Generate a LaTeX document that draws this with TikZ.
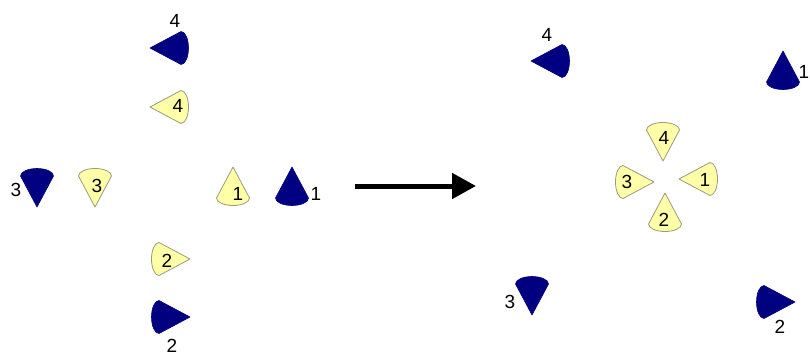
\documentclass[tikz,border=0pt]{standalone}
\usepackage{fontspec}
\setmainfont{Liberation Sans}
\usetikzlibrary{arrows.meta}
\definecolor{navyc}{HTML}{000080}
\definecolor{paleY}{HTML}{FFFFA8}
\definecolor{paleEdge}{HTML}{9A9A80}
\tikzset{
  bluecone/.style={fill=navyc, draw=navyc, line width=0.6pt, line join=round},
  yelcone/.style={fill=paleY, draw=paleEdge, line width=0.8pt, line join=round},
  lbl/.style={inner sep=0pt, font=\fontsize{19}{19}\selectfont},
  bigarrow/.style={line width=5pt, -{Triangle[length=24pt,width=25pt]}}
}
\newcommand\drawcone[4]{%
  \begin{scope}[shift={(#1,#2)}, rotate=#3]
    \path[#4] (0,0) -- (31,16.5) arc[start angle=90, end angle=-90, x radius=7.5, y radius=16.5] -- cycle;
  \end{scope}}
\begin{document}
\begin{tikzpicture}[x=1pt,y=-1pt]
\useasboundingbox (0,0) rectangle (810,356);
\fill[white] (0,0) rectangle (810,356);
% left panel
\begin{scope}
  \clip (0,0) rectangle (190,356);
  \drawcone{150}{48}{0}{bluecone}
  \drawcone{150}{107}{0}{yelcone}
\end{scope}
\drawcone{37}{207}{90}{bluecone}
\drawcone{95}{207}{90}{yelcone}
\drawcone{233}{167}{-90}{yelcone}
\drawcone{292}{167}{-90}{bluecone}
\drawcone{190}{259}{180}{yelcone}
\drawcone{190}{317}{180}{bluecone}
\node[lbl] (l4a) at (175,21) {4};
\node[lbl] (l4b) at (178,106) {4};
\node[lbl] (l3a) at (16,190) {3};
\node[lbl] (l3b) at (97,186) {3};
\node[lbl] (l1a) at (238,194) {1};
\node[lbl] (l1b) at (316,194) {1};
\node[lbl] (l2a) at (167,261) {2};
\node[lbl] (l2b) at (172,346) {2};
% arrow
\coordinate (arrS) at (355,186);
\coordinate (arrE) at (476,186);
\draw[bigarrow] (arrS) -- (arrE);
% right panel
\begin{scope}
  \clip (0,0) rectangle (570,356);
  \drawcone{531}{61}{0}{bluecone}
\end{scope}
\begin{scope}
  \clip (0,0) rectangle (718,356);
  \drawcone{679}{179}{0}{yelcone}
\end{scope}
\drawcone{783}{51}{-90}{bluecone}
\drawcone{663}{161}{90}{yelcone}
\drawcone{654}{182}{180}{yelcone}
\drawcone{665}{193}{-90}{yelcone}
\drawcone{532}{315}{90}{bluecone}
\drawcone{795}{302}{180}{bluecone}
\node[lbl] (r4a) at (547,35) {4};
\node[lbl] (r1a) at (804,72) {1};
\node[lbl] (r4b) at (664,138) {4};
\node[lbl] (r3b) at (627,182) {3};
\node[lbl] (r1b) at (705,180) {1};
\node[lbl] (r2b) at (664,220) {2};
\node[lbl] (r3a) at (510,302) {3};
\node[lbl] (r2a) at (780,327) {2};
\end{tikzpicture}
\end{document}
